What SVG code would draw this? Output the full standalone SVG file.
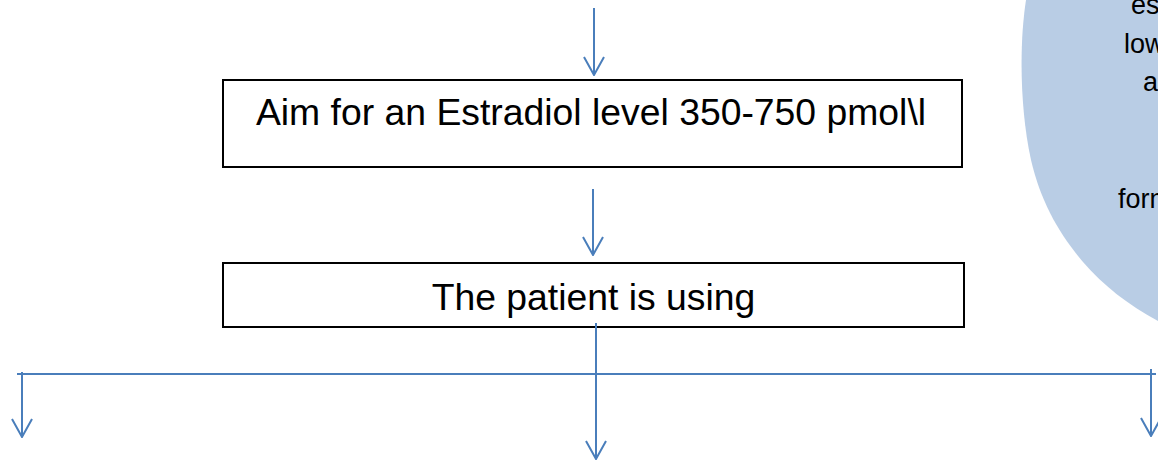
<svg xmlns="http://www.w3.org/2000/svg" width="1158" height="462" viewBox="0 0 1158 462">
<style>
.box{fill:#fff;stroke:#000;stroke-width:2}
.t{font-family:"Liberation Sans",Arial,sans-serif;fill:#000}
.big{font-size:37.33px;text-anchor:middle}
.sm{font-size:27px}
.c{fill:none;stroke:#4A7EBB;stroke-width:2}
</style>
<defs>
<marker id="ah" viewBox="0 0 20 22" refX="19" refY="11" markerWidth="20" markerHeight="22" markerUnits="userSpaceOnUse" orient="auto">
<path d="M1,1 L19,11 L1,21" fill="none" stroke="#4A7EBB" stroke-width="2"/>
</marker>
</defs>
<rect width="1158" height="462" fill="#fff"/>
<g id="ellipse">
<path d="M1026,0 C1019,45 1020,110 1031,160 C1041,203 1060,235 1083,262 C1103,285 1128,305 1158,321 L1158,0 Z" fill="#B9CDE5"/>
<text class="t sm" x="1131" y="14">es</text>
<text class="t sm" x="1124" y="53">low</text>
<text class="t sm" x="1143" y="91">a</text>
<text class="t sm" x="1118" y="208">form</text>
</g>
<g id="aim">
<rect class="box" x="223" y="80" width="739" height="87"/>
<text class="t big" x="591" y="125">Aim for an Estradiol level 350-750 pmol\l</text>
</g>
<g id="using">
<rect class="box" x="223" y="263" width="741" height="64"/>
<text class="t big" x="593.5" y="310">The patient is using</text>
</g>
<g id="connectors">
<line class="c" x1="594" y1="8" x2="594" y2="75" marker-end="url(#ah)"/>
<line class="c" x1="593" y1="189" x2="593" y2="255" marker-end="url(#ah)"/>
<line class="c" x1="596" y1="323" x2="596" y2="459" marker-end="url(#ah)"/>
<line class="c" x1="17" y1="374" x2="1156" y2="374"/>
<line class="c" x1="22" y1="372" x2="22" y2="437" marker-end="url(#ah)"/>
<line class="c" x1="1151" y1="369" x2="1151" y2="436" marker-end="url(#ah)"/>
</g>
</svg>
